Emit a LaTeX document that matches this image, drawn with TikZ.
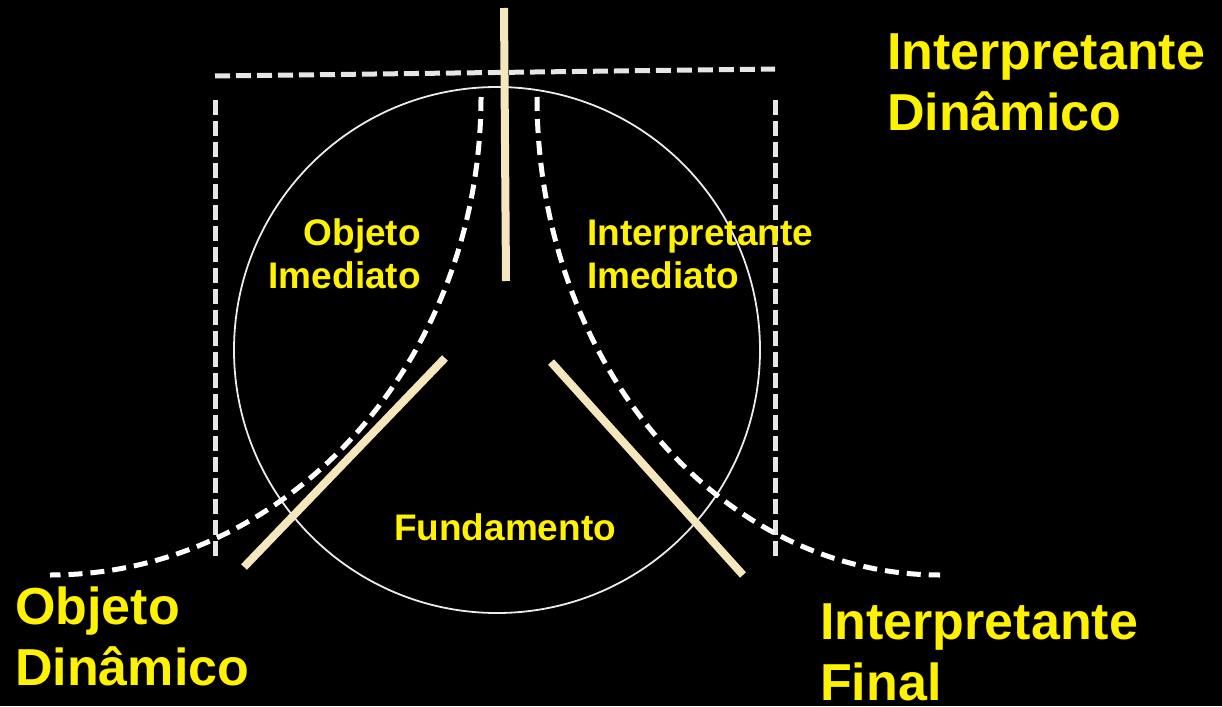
\documentclass[tikz,border=0pt]{standalone}
\usepackage{fontspec}
\setmainfont{Liberation Sans}
\begin{document}
\begin{tikzpicture}[x=1pt,y=-1pt,
  bigtxt/.style={text=yellow,font=\fontsize{52}{61}\selectfont\bfseries,inner sep=0pt},
  smalltxt/.style={text=yellow,font=\fontsize{37}{43}\selectfont\bfseries,inner sep=0pt},
  boxdash/.style={draw={rgb,255:red,230;green,230;blue,230},line width=5pt,dash pattern=on 15pt off 6pt},
  curvedash/.style={draw=white,line width=5pt,dash pattern=on 14pt off 8pt},
  axis/.style={draw={rgb,255:red,245;green,230;blue,190},line width=8pt},
  ring/.style={draw={rgb,255:red,235;green,235;blue,235},line width=1.8pt}]
\fill[black] (0,0) rectangle (1222,706);
\useasboundingbox (0,0) rectangle (1222,706);
% circle
\node[ring,circle,minimum size=526pt,inner sep=0pt] (c) at (497,350) {};
% dashed frame
\coordinate (tl) at (215,76);
\coordinate (tr) at (775,69);
\coordinate (lt) at (215,100);
\coordinate (lb) at (215,560);
\coordinate (rt) at (775,100);
\coordinate (rb) at (775,560);
\draw[boxdash] (tl) -- (tr);
\draw[boxdash] (lt) -- (lb);
\draw[boxdash] (rt) -- (rb);
% dashed curves (quarter ellipses)
\coordinate (lc0) at (481,97);
\coordinate (rc0) at (537,97);
\draw[curvedash] (lc0) arc[start angle=0,end angle=-90,x radius=431pt,y radius=478pt];
\draw[curvedash] (rc0) arc[start angle=180,end angle=270,x radius=403pt,y radius=478pt];
% beige axes
\coordinate (a1) at (504,8);
\coordinate (a2) at (506,281);
\coordinate (b1) at (445,358);
\coordinate (b2) at (244,567);
\coordinate (d1) at (551,362);
\coordinate (d2) at (743,575);
\draw[axis] (a1) -- (a2);
\draw[axis] (b1) -- (b2);
\draw[axis] (d1) -- (d2);
% labels
\node[bigtxt,anchor=base west,align=left] (id) at (887,131) {Interpretante\\Dinâmico};
\node[bigtxt,anchor=base west,align=left] (od) at (15,685) {Objeto\\Dinâmico};
\node[bigtxt,anchor=base west,align=left] (if) at (820,700) {Interpretante\\Final};
\node[smalltxt,anchor=base east,align=right] (oi) at (421,288) {Objeto\\Imediato};
\node[smalltxt,anchor=base west,align=left] (ii) at (587,288) {Interpretante\\Imediato};
\node[smalltxt,anchor=base] (fu) at (505,540) {Fundamento};
\end{tikzpicture}
\end{document}
